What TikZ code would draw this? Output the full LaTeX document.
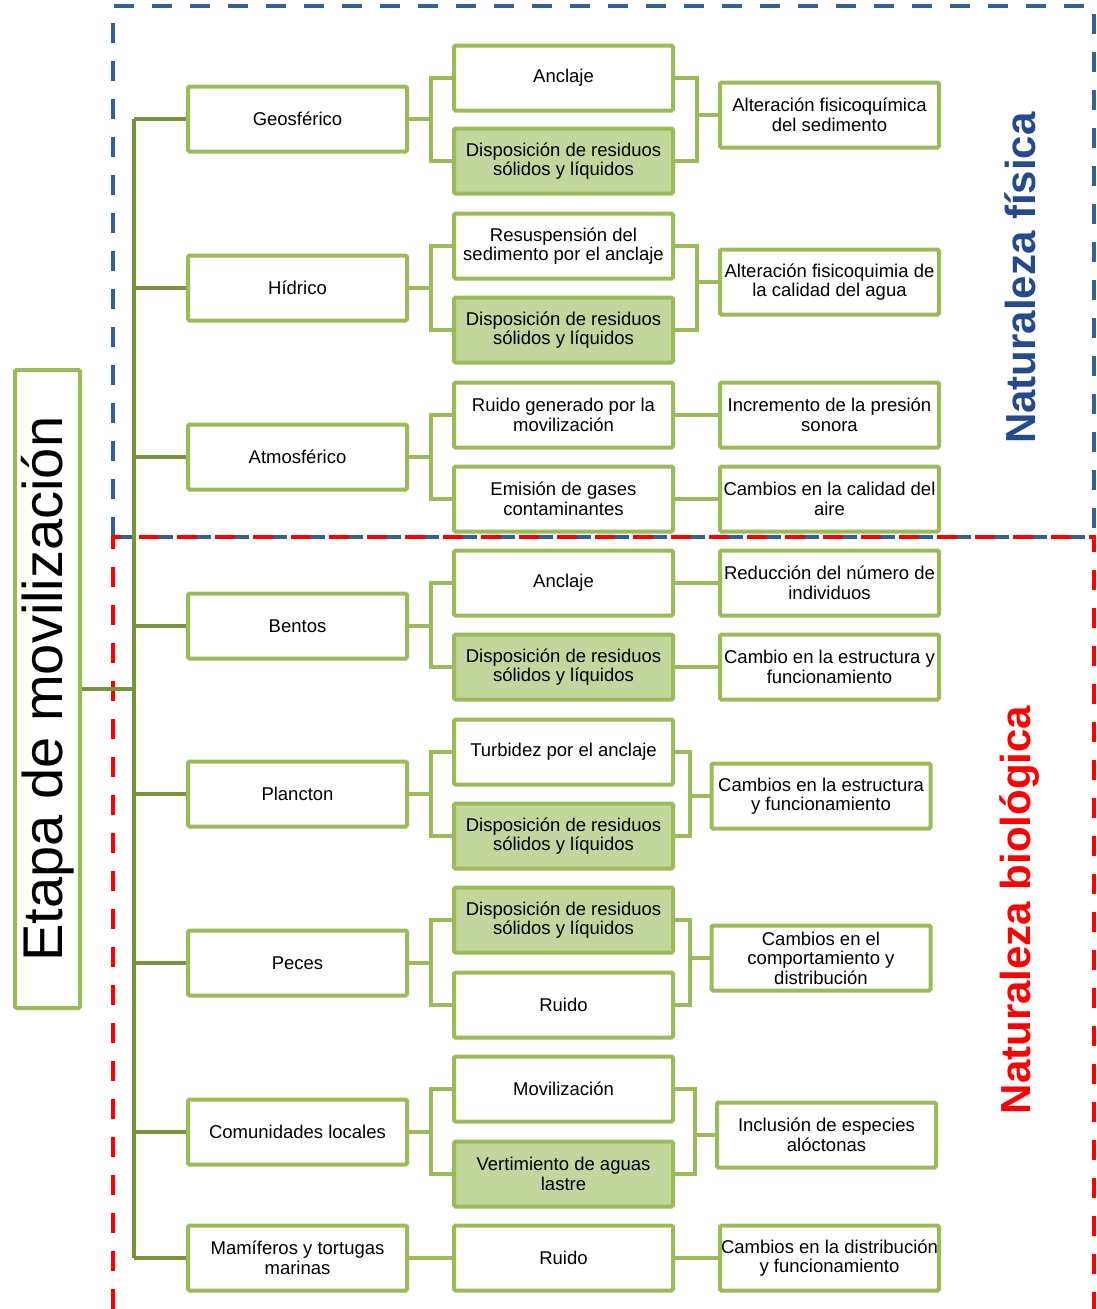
\documentclass[tikz,border=0pt]{standalone}
\usepackage{fontspec}
\setmainfont{Liberation Sans}
\definecolor{boxg}{RGB}{155,187,89}
\definecolor{fillg}{RGB}{195,214,155}
\definecolor{trunkg}{RGB}{119,147,60}
\definecolor{dblue}{RGB}{55,96,146}
\definecolor{tblue}{RGB}{36,74,140}
\definecolor{dred}{RGB}{255,0,0}
\newcommand\fs{\fontsize{18.5}{19.5}\selectfont}
\begin{document}
\begin{tikzpicture}[x=1pt,y=-1pt,
  bx/.style={draw=boxg, line width=4pt, rounded corners=1.5pt, minimum width=219pt, minimum height=65pt, align=center, font=\fs, inner xsep=0pt, inner ysep=2pt, fill=white},
  fl/.style={bx, fill=fillg},
  br/.style={draw=boxg, line width=4pt},
  trk/.style={draw=trunkg, line width=4pt},
  bdash/.style={draw=dblue, line width=4pt, dash pattern=on 20pt off 18pt},
  rdash/.style={draw=dred, line width=4pt, dash pattern=on 20pt off 18pt}]
\useasboundingbox (0,0) rectangle (1096,1309);

% dashed frames
\coordinate (btl) at (113,6);
\coordinate (btr) at (1094,6);
\coordinate (bbl) at (113,537);
\coordinate (bbr) at (1094,537);
\coordinate (rbl) at (113,1309);
\coordinate (rbr) at (1094,1309);
\draw[bdash] (bbl) -- (btl) -- (btr) -- (bbr) -- cycle;
\draw[rdash] (rbl) -- (bbl) -- (bbr) -- (rbr);

% main box
\node[draw=boxg, line width=4pt, rounded corners=1.5pt, rotate=90, minimum width=638pt, minimum height=65pt, font=\fontsize{56}{60}\selectfont, inner sep=0pt, fill=white] (main) at (47.5,689) {Etapa de movilización};

% side labels
\node[rotate=90, font=\fontsize{42}{46}\selectfont\bfseries, text=tblue] (nf) at (1020,278) {Naturaleza física};
\node[rotate=90, font=\fontsize{42}{46}\selectfont\bfseries, text=dred] (nb) at (1020,910) {Naturaleza biológica};

% level 1
\node[bx] (geo) at (297.5,119) {Geosférico};
\node[bx] (hid) at (297.5,288) {Hídrico};
\node[bx] (atm) at (297.5,457) {Atmosférico};
\node[bx] (ben) at (297.5,626) {Bentos};
\node[bx] (pla) at (297.5,794) {Plancton};
\node[bx] (pec) at (297.5,963) {Peces};
\node[bx] (com) at (297.5,1132) {Comunidades locales};
\node[bx] (mam) at (297.5,1258) {Mamíferos y tortugas\\marinas};

% level 2
\node[bx] (g1) at (563.5,78) {Anclaje};
\node[fl] (g2) at (563.5,161) {Disposición de residuos\\sólidos y líquidos};
\node[bx] (h1) at (563.5,246) {Resuspensión del\\sedimento por el anclaje};
\node[fl] (h2) at (563.5,330) {Disposición de residuos\\sólidos y líquidos};
\node[bx] (a1) at (563.5,415) {Ruido generado por la\\movilización};
\node[bx] (a2) at (563.5,499) {Emisión de gases\\contaminantes};
\node[bx] (b1) at (563.5,583) {Anclaje};
\node[fl] (b2) at (563.5,667) {Disposición de residuos\\sólidos y líquidos};
\node[bx] (p1) at (563.5,752) {Turbidez por el anclaje};
\node[fl] (p2) at (563.5,836) {Disposición de residuos\\sólidos y líquidos};
\node[fl] (e1) at (563.5,920) {Disposición de residuos\\sólidos y líquidos};
\node[bx] (e2) at (563.5,1005) {Ruido};
\node[bx] (c1) at (563.5,1089) {Movilización};
\node[fl] (c2) at (563.5,1174) {Vertimiento de aguas\\lastre};
\node[bx] (m1) at (563.5,1258) {Ruido};

% level 3
\node[bx] (gr) at (829.5,115) {Alteración fisicoquímica\\del sedimento};
\node[bx] (hr) at (829.5,282) {Alteración fisicoquimia de\\la calidad del agua};
\node[bx] (ar1) at (829.5,415) {Incremento de la presión\\sonora};
\node[bx] (ar2) at (829.5,499) {Cambios en la calidad del\\aire};
\node[bx] (br1) at (829.5,583) {Reducción del número de\\individuos};
\node[bx] (br2) at (829.5,667) {Cambio en la estructura y\\funcionamiento};
\node[bx] (pr) at (821,796) {Cambios en la estructura\\y funcionamiento};
\node[bx] (er) at (821,958) {Cambios en el\\comportamiento y\\distribución};
\node[bx] (cr) at (826.5,1135) {Inclusión de especies\\alóctonas};
\node[bx] (mr) at (829.5,1258) {Cambios en la distribución\\y funcionamiento};

% trunk
\coordinate (tk) at (134,689);
\draw[trk] (main.south) -- (tk);
\draw[trk] (geo.west -| tk) -- (mam.west -| tk);
\foreach \n in {geo,hid,atm,ben,pla,pec,com,mam}
  \draw[trk] (\n.west -| tk) -- (\n.west);

% left brackets
\foreach \p/\a/\b in {geo/g1/g2,hid/h1/h2,atm/a1/a2,ben/b1/b2,pla/p1/p2,pec/e1/e2,com/c1/c2}{
  \draw[br] (\a.west) -- ++(-21,0) |- (\b.west);
  \draw[br] (\p.east) -- ([xshift=-21pt]\a.west |- \p.east);
}
\draw[br] (mam.east) -- (m1.west);

% right brackets
\foreach \a/\b/\r/\d in {g1/g2/gr/22,h1/h2/hr/22,p1/p2/pr/15,e1/e2/er/15,c1/c2/cr/20}{
  \draw[br] (\a.east) -- ++(\d,0) |- (\b.east);
  \draw[br] ([xshift=\d pt]\a.east |- \r.west) -- (\r.west);
}
\draw[br] (a1.east) -- (ar1.west);
\draw[br] (a2.east) -- (ar2.west);
\draw[br] (b1.east) -- (br1.west);
\draw[br] (b2.east) -- (br2.west);
\draw[br] (m1.east) -- (mr.west);
\end{tikzpicture}
\end{document}
